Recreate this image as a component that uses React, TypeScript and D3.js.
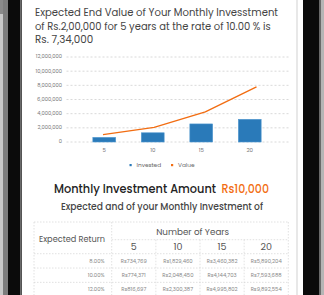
import React from "react";
import * as d3 from "d3";

// chart data
const years = ["5", "10", "15", "20"];
const invested = [650000, 1300000, 2550000, 3200000];
const value = [1040000, 2070000, 4240000, 7770000];
const yTicks = [0, 2000000, 4000000, 6000000, 8000000, 10000000, 12000000];
const legendLabels = ["Invested", "Value"];

// table data
const rates = ["8.00%", "10.00%", "12.00%"];
const tableRows = [
  ["Rs734,769", "Rs1,829,460", "Rs3,460,382", "Rs5,890,204"],
  ["Rs774,371", "Rs2,048,450", "Rs4,144,703", "Rs7,593,688"],
  ["Rs816,697", "Rs2,300,387", "Rs4,995,802", "Rs9,892,554"],
];

const titleLines = [
  "Expected End Value of Your Monthly Invesstment",
  "of Rs.2,00,000 for 5 years at the rate of 10.00 % is",
  "Rs. 7,34,000",
];

const FONT = "Poppins, 'Open Sans', Inter, sans-serif";
const BLUE = "#2a7ab9";
const ORANGE = "#f26d12";

export default function App() {
  const width = 324,
    height = 295;

  const yScale = d3.scaleLinear().domain([0, 12000000]).range([142, 57]);
  const xBand = d3
    .scaleBand()
    .domain(years)
    .range([80, 274])
    .paddingInner(0.53)
    .paddingOuter(0.265);
  const xLine = d3.scalePoint().domain(years).range([103, 256.5]);
  const fmt = d3.format(",");

  const line = d3
    .line<number>()
    .x((d, i) => xLine(years[i]) as number)
    .y((d) => yScale(d));

  // table scales
  const colScale = d3.scaleBand().domain(years).range([111.7, 288.3]);
  const rowScale = d3.scaleBand().domain(rates).range([253.7, 296.7]);
  const tblLeft = 34,
    tblTop = 222,
    midY = 239.7;
  const border = "#d4d4d4";

  const titleWidths = [243, 235.7, 58.3];
  const titleBase = [16, 29.7, 43.4];

  return (
    <svg width={width} height={height} style={{ position: "absolute", left: 0, top: 0 }}>
      <rect x={0} y={0} width={width} height={height} fill="#fff" />
      {/* phone frame */}
      <rect x={0} y={0} width={3} height={height} fill="#c9c9c9" />
      <rect x={3} y={0} width={5} height={height} fill="#7d7d7d" />
      <rect x={0} y={0} width={3} height={14} fill="#8a8a8a" />
      <rect x={8} y={0} width={12.5} height={height} fill="#0b0b0b" />
      <rect x={20.5} y={0} width={1.5} height={height} fill="#555" />
      <rect x={296} y={0} width={2} height={height} fill="#e8e8e8" />
      <rect x={303} y={0} width={16} height={height} fill="#0b0b0b" />
      <rect x={319} y={0} width={2} height={height} fill="#6a6a6a" />
      <rect x={321} y={0} width={3} height={height} fill="#b5b5b5" />

      {/* title */}
      {titleLines.map((t, i) => (
        <text
          key={i}
          x={35}
          y={titleBase[i]}
          fontFamily={FONT}
          fontSize={10}
          fill="#444"
          textLength={titleWidths[i]}
          lengthAdjust="spacingAndGlyphs"
        >
          {t}
        </text>
      ))}

      {/* y grid + labels */}
      {yTicks.map((t) => (
        <g key={t}>
          <line
            x1={66.5}
            x2={290}
            y1={yScale(t)}
            y2={yScale(t)}
            stroke="#cfcfcf"
            strokeWidth={0.8}
            strokeDasharray="2,2"
          />
          <text
            x={62}
            y={yScale(t)}
            textAnchor="end"
            dominantBaseline="middle"
            fontFamily={FONT}
            fontSize={5.2}
            fill="#777"
          >
            {fmt(t)}
          </text>
        </g>
      ))}

      {/* bars */}
      {invested.map((v, i) => (
        <rect
          key={i}
          x={xBand(years[i])}
          y={yScale(v)}
          width={xBand.bandwidth()}
          height={yScale(0) - yScale(v)}
          fill={BLUE}
          stroke="#4e97cf"
          strokeWidth={0.6}
        />
      ))}

      {/* value line */}
      <path d={line(value) || ""} fill="none" stroke={ORANGE} strokeWidth={1.4} />

      {/* x labels */}
      {years.map((y) => (
        <text
          key={y}
          x={(xBand(y) as number) + xBand.bandwidth() / 2}
          y={152}
          textAnchor="middle"
          fontFamily={FONT}
          fontSize={5.5}
          fill="#777"
        >
          {y}
        </text>
      ))}

      {/* legend */}
      {legendLabels.map((l, i) => (
        <g key={l} transform={`translate(${i === 0 ? 129.5 : 171}, 164)`}>
          <rect x={0} y={0} width={2.2} height={2.2} fill={i === 0 ? BLUE : ORANGE} />
          <text x={7} y={3.2} fontFamily={FONT} fontSize={5.8} fill="#666">
            {l}
          </text>
        </g>
      ))}

      {/* heading */}
      <text
        x={54}
        y={193.3}
        fontFamily={FONT}
        fontSize={12}
        fontWeight={500}
        fill="#222"
        textLength={162}
        lengthAdjust="spacingAndGlyphs"
      >
        Monthly Investment Amount
      </text>
      <text
        x={221.5}
        y={193.3}
        fontFamily={FONT}
        fontSize={12}
        fontWeight={500}
        fill={ORANGE}
        textLength={47.5}
        lengthAdjust="spacingAndGlyphs"
      >
        Rs10,000
      </text>
      <text
        x={61}
        y={210}
        fontFamily={FONT}
        fontSize={10}
        fontWeight={500}
        fill="#444"
        textLength={202}
        lengthAdjust="spacingAndGlyphs"
      >
        Expected and of your Monthly Investment of
      </text>

      {/* table */}
      <g fill="none" stroke={border} strokeWidth={0.7} strokeDasharray="1.5,1.5">
        <line x1={tblLeft} x2={288.3} y1={tblTop} y2={tblTop} />
        <line x1={111.7} x2={288.3} y1={midY} y2={midY} />
        <line x1={tblLeft} x2={tblLeft} y1={tblTop} y2={height} />
        <line x1={288.3} x2={288.3} y1={tblTop} y2={height} />
        <line x1={111.7} x2={111.7} y1={tblTop} y2={height} />
        {years.slice(1).map((y) => (
          <line key={y} x1={colScale(y)} x2={colScale(y)} y1={midY} y2={height} />
        ))}
        {rates.map((r) => (
          <line key={r} x1={tblLeft} x2={288.3} y1={rowScale(r)} y2={rowScale(r)} />
        ))}
      </g>
      <text x={39} y={241.5} fontFamily={FONT} fontSize={8.8} fill="#555" textLength={66} lengthAdjust="spacingAndGlyphs">
        Expected Return
      </text>
      <text x={192.7} y={234.7} textAnchor="middle" fontFamily={FONT} fontSize={8.8} fill="#555" textLength={73} lengthAdjust="spacingAndGlyphs">
        Number of Years
      </text>
      {years.map((y) => (
        <text
          key={y}
          x={(colScale(y) as number) + colScale.bandwidth() / 2}
          y={249.7}
          textAnchor="middle"
          fontFamily={FONT}
          fontSize={9.5}
          fill="#555"
        >
          {y}
        </text>
      ))}
      {rates.map((r, ri) => (
        <g key={r}>
          <text
            x={104.5}
            y={(rowScale(r) as number) + rowScale.bandwidth() / 2 + 1.9}
            textAnchor="end"
            fontFamily={FONT}
            fontSize={5.3}
            fill="#888"
          >
            {r}
          </text>
          {tableRows[ri].map((c, ci) => (
            <text
              key={ci}
              x={(colScale(years[ci]) as number) + colScale.bandwidth() / 2}
              y={(rowScale(r) as number) + rowScale.bandwidth() / 2 + 1.9}
              textAnchor="middle"
              fontFamily={FONT}
              fontSize={5.3}
              fill="#888"
            >
              {c}
            </text>
          ))}
        </g>
      ))}
    </svg>
  );
}
